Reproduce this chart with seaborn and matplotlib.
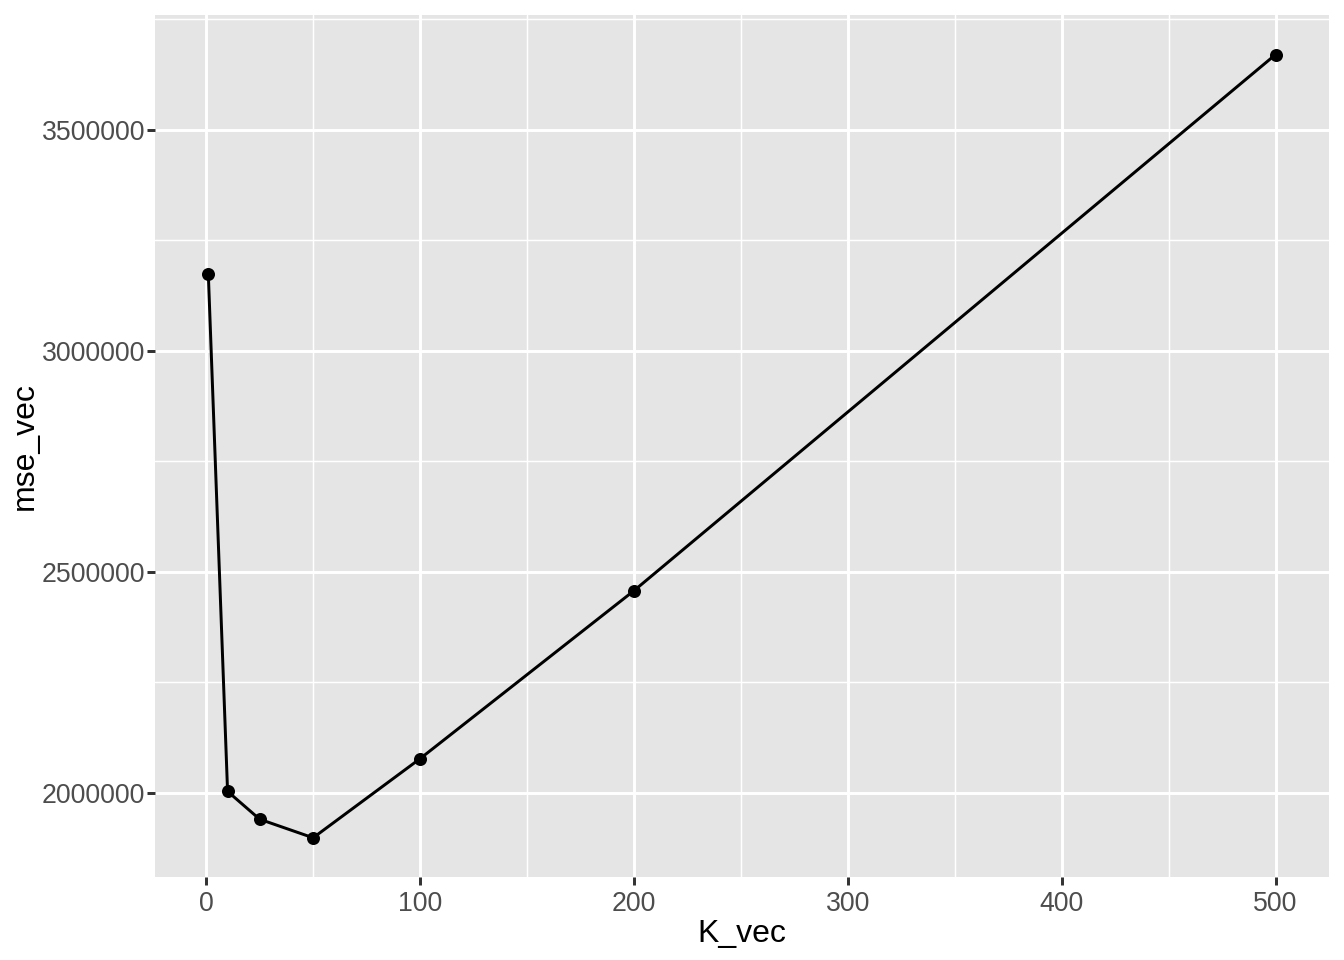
import numpy as np
import pandas as pd
import matplotlib
matplotlib.use('Agg')
import matplotlib.pyplot as plt
import seaborn as sns
from matplotlib.ticker import MultipleLocator, FixedLocator

# данные с графика
K_vec = [1, 10, 25, 50, 100, 200, 500]
mse_vec = [3173000, 2003000, 1940000, 1898000, 2077000, 2457000, 3670000]
x_ticks = [0, 100, 200, 300, 400, 500]
y_ticks = [2000000, 2500000, 3000000, 3500000]

df = pd.DataFrame({'K_vec': K_vec, 'mse_vec': mse_vec})

sns.set_style('darkgrid', {'axes.facecolor': '#E5E5E5', 'grid.color': 'white'})
plt.rcParams['font.family'] = ['Liberation Sans', 'DejaVu Sans']

fig = plt.figure(figsize=(6.72, 4.8), dpi=200)
ax = fig.add_axes([0.1153, 0.0865, 0.9888 - 0.1153, 0.984 - 0.0865])

sns.lineplot(data=df, x='K_vec', y='mse_vec', ax=ax, color='black', linewidth=1.07)
sns.scatterplot(data=df, x='K_vec', y='mse_vec', ax=ax, color='black', s=22,
                edgecolor='black', linewidth=0, zorder=3)

# пределы как в ggplot (расширение 5%)
xr = max(K_vec) - min(K_vec)
yr = max(mse_vec) - min(mse_vec)
ax.set_xlim(min(K_vec) - 0.05 * xr, max(K_vec) + 0.05 * xr)
ax.set_ylim(min(mse_vec) - 0.05 * yr, max(mse_vec) + 0.05 * yr)

ax.xaxis.set_major_locator(FixedLocator(x_ticks))
ax.yaxis.set_major_locator(FixedLocator(y_ticks))
ax.xaxis.set_minor_locator(MultipleLocator(50))
ax.yaxis.set_minor_locator(MultipleLocator(250000))
ax.set_yticklabels([str(v) for v in y_ticks])

ax.grid(which='major', color='white', linewidth=1.07)
ax.grid(which='minor', color='white', linewidth=0.53)
ax.set_axisbelow(True)
for sp in ax.spines.values():
    sp.set_visible(False)

ax.tick_params(which='major', length=2.75, width=1.07, color='#333333',
               labelsize=9.6, labelcolor='#4D4D4D', pad=2.2,
               bottom=True, left=True)
ax.tick_params(axis='y', which='major', pad=0.8)
ax.tick_params(which='minor', length=0)

ax.set_xlabel('K_vec', fontsize=11.5, color='black', labelpad=0.8)
ax.set_ylabel('mse_vec', fontsize=11.5, color='black', labelpad=0.5)

fig.savefig('out.png', dpi=200, facecolor='white')
